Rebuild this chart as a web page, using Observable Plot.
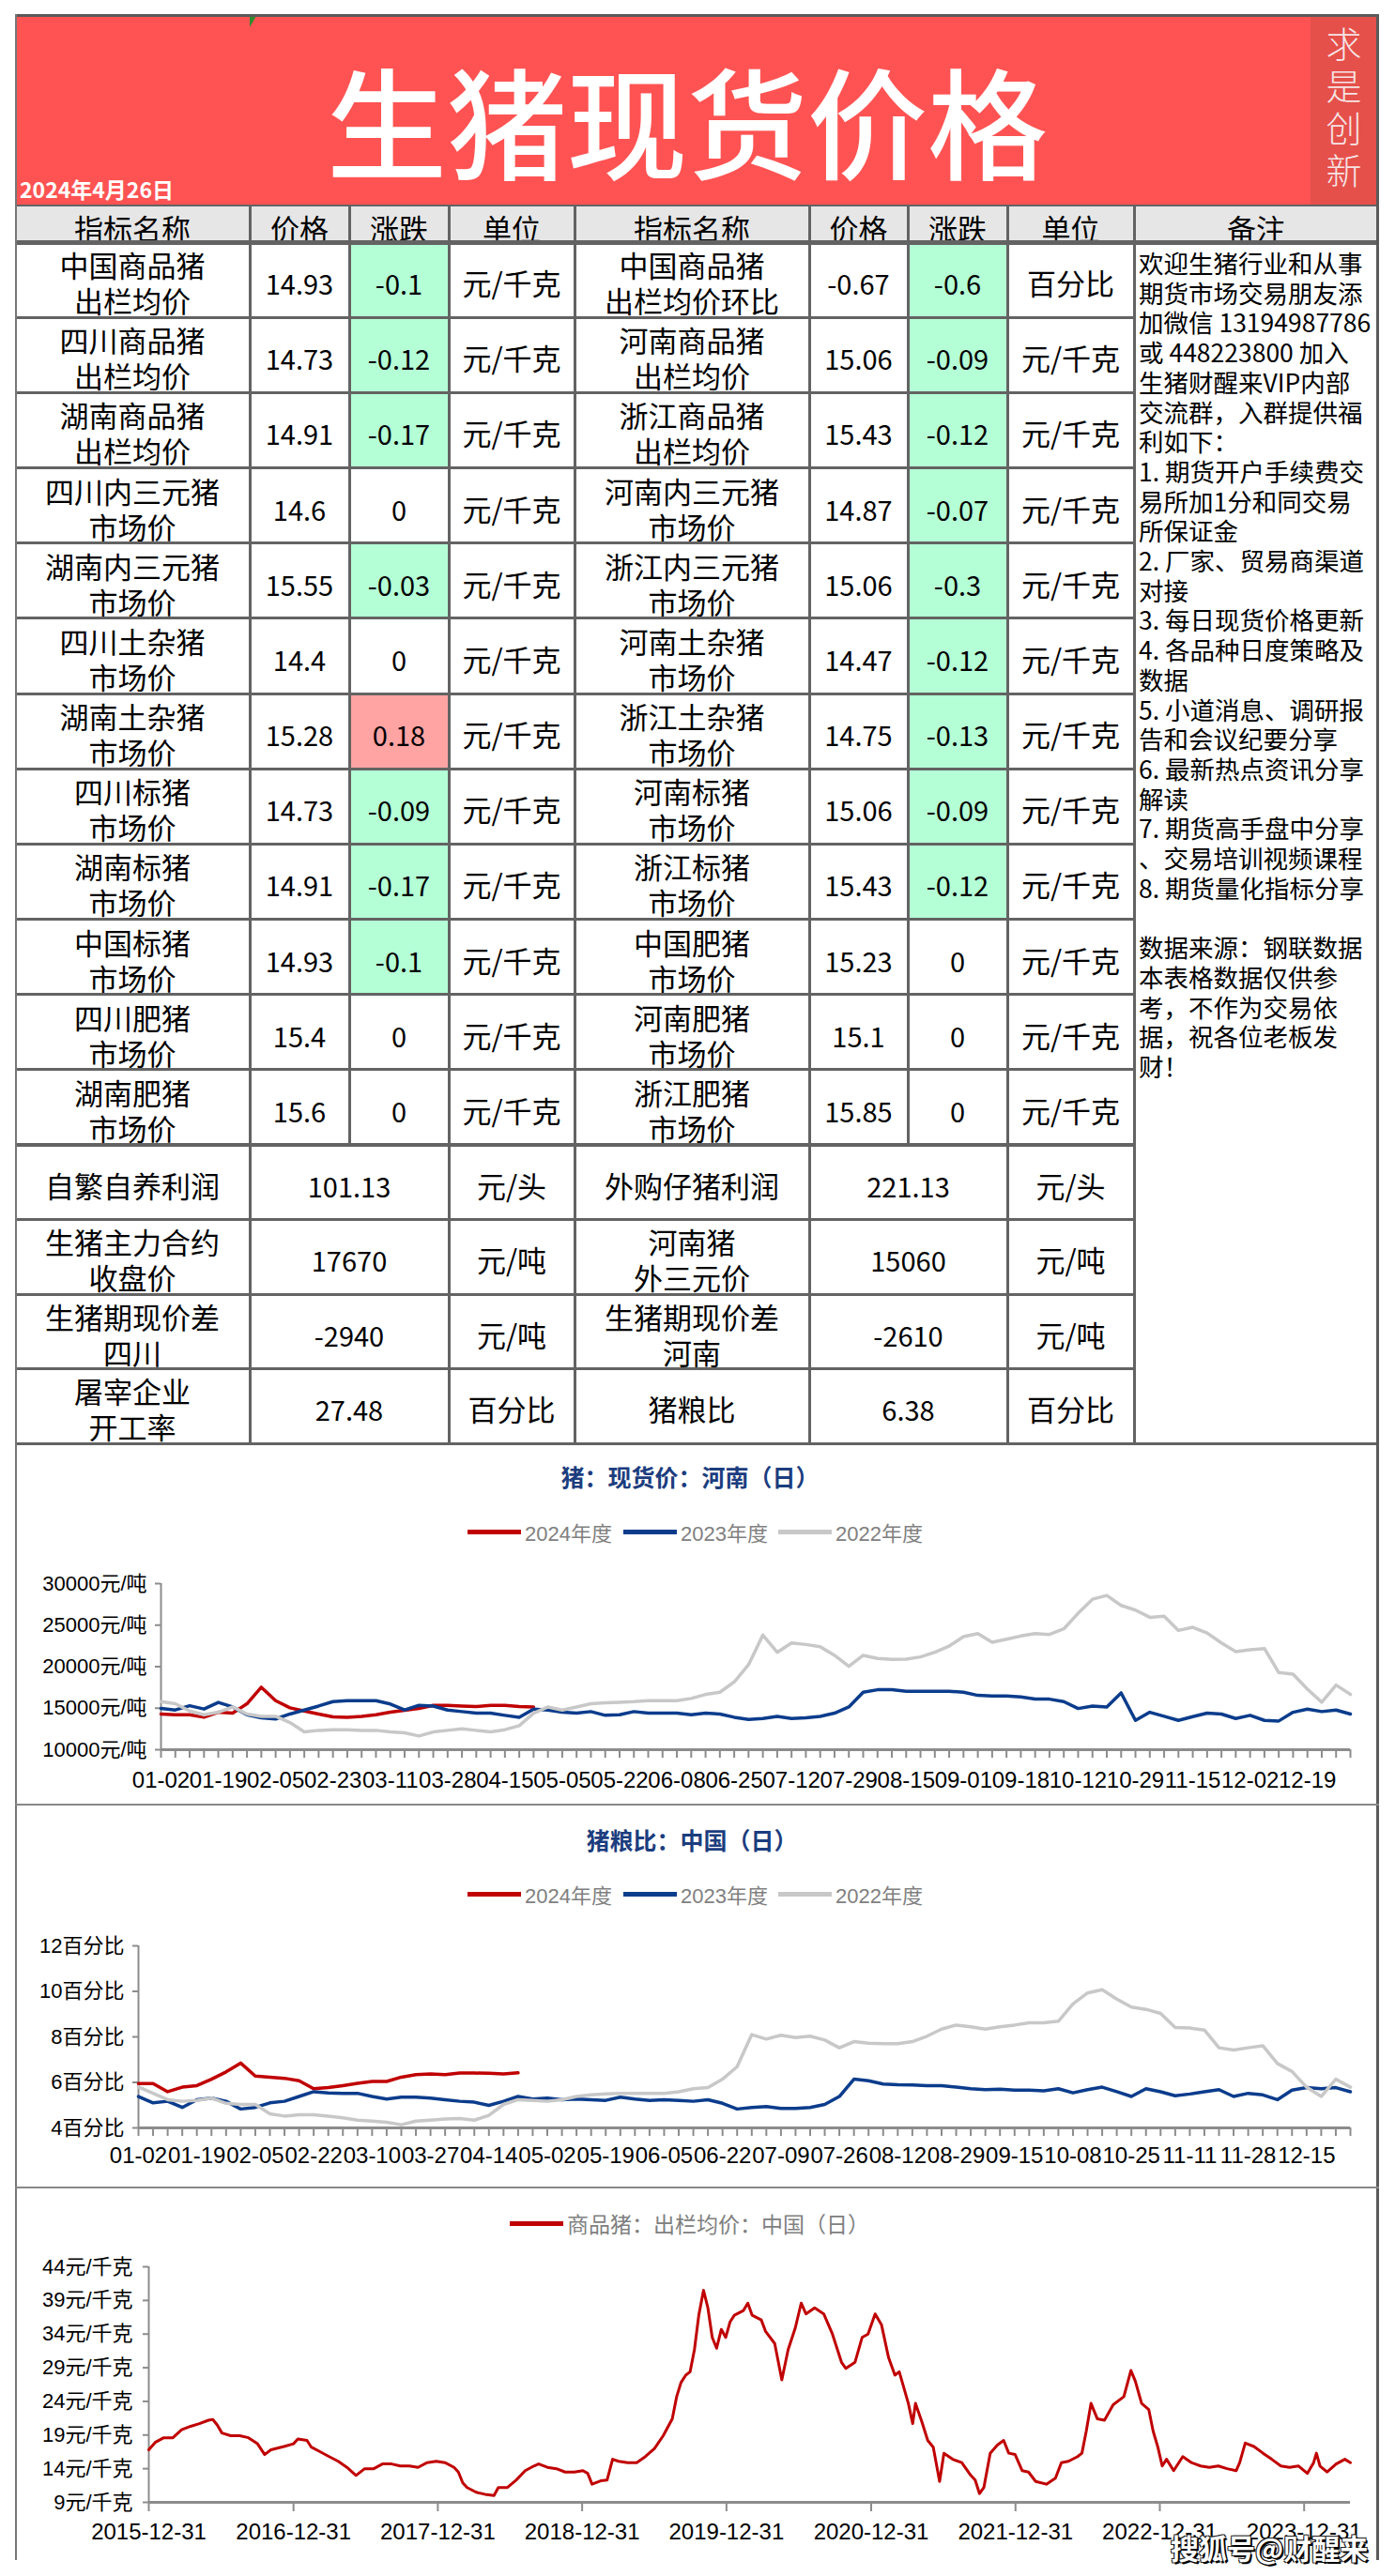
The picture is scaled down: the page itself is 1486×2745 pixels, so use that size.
<!DOCTYPE html>
<html lang="zh-CN">
<head>
<meta charset="utf-8">
<script src="https://cdn.jsdelivr.net/npm/d3@7"></script>
<script src="https://cdn.jsdelivr.net/npm/@observablehq/plot@0.6"></script>
<style>
html,body{margin:0;padding:0;background:#fff;}
#page{position:relative;width:1486px;height:2745px;overflow:hidden;background:#fff;font-family:"Noto Sans CJK SC","Noto Sans",sans-serif;color:#000;}
.a{position:absolute;}
.cell{position:absolute;box-sizing:border-box;display:flex;align-items:center;justify-content:center;text-align:center;white-space:pre-line;line-height:38px;font-size:31px;padding-top:6px;}
.ln{position:absolute;background:#636363;}
.ctitle{position:absolute;transform:translate(-50%,-50%);font-weight:700;font-size:25px;color:#1C3D7E;white-space:nowrap;}
.leg{position:absolute;display:flex;align-items:center;height:30px;font-size:22px;color:#808080;white-space:nowrap;font-family:"Liberation Sans","Noto Sans CJK SC",sans-serif;}
.leg i{display:inline-block;width:57px;height:5px;margin-right:4px;}
</style>
</head>
<body>
<div id="page"></div>
<script>
// ---------------- DATA ----------------
const reportDate = "2024年4月26日";
const sealText = "求是创新";
const headers = ["指标名称","价格","涨跌","单位","指标名称","价格","涨跌","单位","备注"];

const leftNames = ["中国商品猪\n出栏均价","四川商品猪\n出栏均价","湖南商品猪\n出栏均价","四川内三元猪\n市场价","湖南内三元猪\n市场价","四川土杂猪\n市场价","湖南土杂猪\n市场价","四川标猪\n市场价","湖南标猪\n市场价","中国标猪\n市场价","四川肥猪\n市场价","湖南肥猪\n市场价"];
const leftPrices = [14.93,14.73,14.91,14.6,15.55,14.4,15.28,14.73,14.91,14.93,15.4,15.6];
const leftChanges = [-0.1,-0.12,-0.17,0,-0.03,0,0.18,-0.09,-0.17,-0.1,0,0];
const leftUnits = ["元/千克","元/千克","元/千克","元/千克","元/千克","元/千克","元/千克","元/千克","元/千克","元/千克","元/千克","元/千克"];

const rightNames = ["中国商品猪\n出栏均价环比","河南商品猪\n出栏均价","浙江商品猪\n出栏均价","河南内三元猪\n市场价","浙江内三元猪\n市场价","河南土杂猪\n市场价","浙江土杂猪\n市场价","河南标猪\n市场价","浙江标猪\n市场价","中国肥猪\n市场价","河南肥猪\n市场价","浙江肥猪\n市场价"];
const rightPrices = [-0.67,15.06,15.43,14.87,15.06,14.47,14.75,15.06,15.43,15.23,15.1,15.85];
const rightChanges = [-0.6,-0.09,-0.12,-0.07,-0.3,-0.12,-0.13,-0.09,-0.12,0,0,0];
const rightUnits = ["百分比","元/千克","元/千克","元/千克","元/千克","元/千克","元/千克","元/千克","元/千克","元/千克","元/千克","元/千克"];

const bottomLeftNames = ["自繁自养利润","生猪主力合约\n收盘价","生猪期现价差\n四川","屠宰企业\n开工率"];
const bottomLeftValues = [101.13,17670,-2940,27.48];
const bottomLeftUnits = ["元/头","元/吨","元/吨","百分比"];
const bottomRightNames = ["外购仔猪利润","河南猪\n外三元价","生猪期现价差\n河南","猪粮比"];
const bottomRightValues = [221.13,15060,-2610,6.38];
const bottomRightUnits = ["元/头","元/吨","元/吨","百分比"];

const notes = ["欢迎生猪行业和从事","期货市场交易朋友添","加微信 13194987786","或 448223800 加入","生猪财醒来VIP内部","交流群，入群提供福","利如下：","1. 期货开户手续费交","易所加1分和同交易","所保证金","2. 厂家、贸易商渠道","对接","3. 每日现货价格更新","4. 各品种日度策略及","数据","5. 小道消息、调研报","告和会议纪要分享","6. 最新热点资讯分享","解读","7. 期货高手盘中分享","、交易培训视频课程","8. 期货量化指标分享","","数据来源：钢联数据","本表格数据仅供参","考，不作为交易依","据，祝各位老板发","财！"];

// chart 1: 猪：现货价：河南（日） 元/吨, sampled every ~3 trading days
const seriesNames = ["2024年度","2023年度","2022年度"];
const henan2024 = [14290,14210,14210,13910,14510,14400,15530,17520,15900,15040,14660,14290,13950,13910,14020,14210,14510,14740,14960,15340,15340,15260,15190,15340,15340,15190,15150];
const henan2023 = [14960,14780,15300,14900,15700,15150,14200,13850,13700,14300,14780,15260,15790,15900,15900,15900,15500,14780,15340,15260,14780,14590,14400,14400,14140,13900,14890,14780,14510,14400,14590,14140,14210,14590,14400,14400,14400,14210,14400,14290,13910,13650,13760,14020,13760,13840,14020,14400,15150,16920,17220,17220,17030,17030,17030,17030,16920,16540,16470,16470,16350,16090,16090,15790,14960,15260,15150,16840,13530,14510,14020,13530,13990,14400,14290,13760,14140,13530,13460,14510,14890,14590,14780,14290];
const henan2022 = [15790,15530,14660,14210,14510,15150,14290,14020,14020,13270,12140,12330,12410,12410,12330,12330,12140,12030,11650,12140,12330,12520,12330,12140,12410,12900,14400,15150,14780,15150,15530,15640,15720,15790,15900,15900,15900,16170,16660,16920,18160,20230,23800,21730,22860,22670,22410,21360,20040,21360,20980,20870,20900,21170,21730,22480,23610,23990,22930,23310,23690,23990,23880,24550,26430,28120,28570,27370,26810,25940,26060,24360,24740,24060,22860,21810,22030,22180,19290,19100,17290,15720,17780,16660];
const henanYTicks = [10000,15000,20000,25000,30000];
const henanXLabels = ["01-02","01-19","02-05","02-23","03-11","03-28","04-15","05-05","05-22","06-08","06-25","07-12","07-29","08-15","09-01","09-18","10-12","10-29","11-15","12-02","12-19"];

// chart 2: 猪粮比：中国（日） 百分比
const ratio2024 = [5.95,5.95,5.59,5.79,5.86,6.14,6.46,6.85,6.28,6.23,6.18,6.07,5.72,5.77,5.86,5.96,6.04,6.04,6.23,6.34,6.37,6.34,6.41,6.41,6.40,6.37,6.42];
const ratio2023 = [5.38,5.10,5.17,4.90,5.24,5.31,5.17,4.83,4.90,5.10,5.17,5.38,5.59,5.54,5.52,5.52,5.38,5.27,5.35,5.35,5.31,5.24,5.17,5.13,4.99,5.17,5.38,5.27,5.31,5.24,5.27,5.24,5.21,5.35,5.27,5.21,5.24,5.21,5.17,5.24,5.08,4.83,4.90,4.94,4.86,4.86,4.90,5.03,5.38,6.14,6.07,5.93,5.90,5.89,5.86,5.86,5.79,5.72,5.68,5.70,5.66,5.66,5.63,5.72,5.54,5.68,5.79,5.59,5.38,5.72,5.59,5.41,5.49,5.59,5.68,5.38,5.52,5.45,5.24,5.66,5.77,5.72,5.77,5.59];
const ratio2022 = [5.80,5.52,5.24,5.17,5.21,5.31,5.08,5.03,5.03,4.62,4.52,4.58,4.58,4.52,4.44,4.34,4.30,4.25,4.14,4.30,4.34,4.39,4.41,4.34,4.55,5.03,5.24,5.21,5.17,5.24,5.38,5.45,5.49,5.52,5.52,5.52,5.52,5.59,5.72,5.77,6.14,6.69,8.10,7.90,8.07,7.97,8.03,7.86,7.52,7.79,7.72,7.70,7.70,7.79,8.03,8.34,8.52,8.44,8.34,8.44,8.52,8.62,8.62,8.69,9.45,9.93,10.07,9.66,9.31,9.21,9.03,8.41,8.39,8.30,7.52,7.42,7.52,7.61,6.83,6.48,5.79,5.38,6.14,5.79];
const ratioYTicks = [4,6,8,10,12];
const ratioXLabels = ["01-02","01-19","02-05","02-22","03-10","03-27","04-14","05-02","05-19","06-05","06-22","07-09","07-26","08-12","08-29","09-15","10-08","10-25","11-11","11-28","12-15"];

// chart 3: 商品猪：出栏均价：中国（日） 元/千克
const hogDates = ["2015-12-31","2016-01-16","2016-02-07","2016-03-01","2016-03-23","2016-04-15","2016-05-07","2016-05-30","2016-06-10","2016-06-21","2016-07-03","2016-07-25","2016-08-17","2016-09-08","2016-10-01","2016-10-19","2016-11-04","2016-12-07","2016-12-31","2017-01-11","2017-02-03","2017-02-14","2017-03-09","2017-03-31","2017-04-23","2017-05-15","2017-06-07","2017-06-29","2017-07-22","2017-08-13","2017-09-05","2017-09-27","2017-10-20","2017-11-11","2017-12-04","2017-12-27","2018-01-18","2018-02-10","2018-02-21","2018-03-04","2018-03-15","2018-04-07","2018-04-29","2018-05-22","2018-06-02","2018-06-25","2018-07-17","2018-08-09","2018-08-31","2018-09-12","2018-10-04","2018-10-27","2018-11-18","2018-12-11","2019-01-02","2019-01-14","2019-01-25","2019-02-16","2019-03-04","2019-03-18","2019-04-02","2019-04-25","2019-05-18","2019-06-09","2019-07-02","2019-07-24","2019-08-16","2019-08-27","2019-09-07","2019-09-19","2019-09-30","2019-10-11","2019-10-22","2019-11-03","2019-11-14","2019-11-25","2019-12-06","2019-12-18","2019-12-29","2020-01-09","2020-01-20","2020-02-12","2020-02-23","2020-03-05","2020-03-28","2020-04-08","2020-05-01","2020-05-19","2020-06-04","2020-06-22","2020-07-07","2020-07-19","2020-08-10","2020-09-02","2020-09-24","2020-10-17","2020-10-28","2020-11-20","2020-12-08","2020-12-23","2021-01-10","2021-01-26","2021-02-13","2021-03-01","2021-03-12","2021-04-04","2021-04-15","2021-04-22","2021-05-08","2021-05-23","2021-06-06","2021-06-22","2021-07-03","2021-07-25","2021-08-17","2021-09-09","2021-09-20","2021-10-01","2021-10-12","2021-10-28","2021-11-15","2021-12-01","2021-12-14","2021-12-30","2022-01-17","2022-02-02","2022-02-20","2022-03-19","2022-04-11","2022-04-26","2022-05-14","2022-06-06","2022-06-17","2022-06-28","2022-07-10","2022-07-26","2022-08-13","2022-09-04","2022-10-01","2022-10-19","2022-10-30","2022-11-15","2022-12-03","2022-12-14","2022-12-26","2023-01-06","2023-01-17","2023-02-04","2023-02-27","2023-03-21","2023-04-13","2023-05-05","2023-05-28","2023-06-19","2023-07-12","2023-07-21","2023-08-04","2023-08-26","2023-09-18","2023-10-10","2023-11-02","2023-11-24","2023-12-17","2024-01-08","2024-01-24","2024-01-31","2024-02-09","2024-02-27","2024-03-21","2024-04-12","2024-04-26"];
const hogPrices = [16.8,17.9,18.6,18.6,19.8,20.3,20.7,21.2,21.3,20.5,19.3,18.9,18.9,18.6,17.7,16.1,16.8,17.3,17.7,18.4,18.2,17.2,16.5,15.8,15.1,14.2,13.0,14.0,14.0,14.7,14.7,14.4,14.4,14.2,14.9,15.1,14.9,14.2,13.5,11.9,11.2,10.5,10.2,10.0,11.2,11.2,12.3,13.7,14.4,14.7,14.2,14.0,13.5,13.5,13.7,13.3,11.7,12.2,12.3,15.4,15.1,14.9,14.9,15.8,17.0,18.9,21.4,24.7,26.8,27.9,28.4,31.7,36.8,40.5,37.9,33.5,31.9,34.7,33.5,35.8,36.8,37.5,38.6,36.8,36.1,34.4,32.6,27.2,31.7,34.9,38.6,37.0,37.9,37.0,34.0,29.8,28.9,29.8,33.5,34.0,37.0,35.4,30.5,27.9,28.4,23.7,20.7,23.7,21.0,18.2,17.2,12.1,16.3,15.4,14.9,13.0,12.3,10.3,11.2,16.3,17.5,18.2,16.3,16.1,13.7,13.5,12.1,11.7,12.6,14.9,15.1,15.8,16.3,19.6,23.7,21.4,21.2,23.5,24.7,28.6,27.0,23.7,22.8,19.6,17.2,14.4,15.4,13.7,15.8,14.9,14.4,14.2,14.4,14.0,13.7,14.9,17.8,17.3,16.3,15.4,14.4,14.2,14.4,13.3,14.9,16.3,14.4,13.5,14.7,15.4,14.9];
const hogYTicks = [9,14,19,24,29,34,39,44];
const hogXTicks = ["2015-12-31","2016-12-31","2017-12-31","2018-12-31","2019-12-31","2020-12-31","2021-12-31","2022-12-31","2023-12-31"];

// ---------------- LAYOUT ----------------
const page = document.getElementById("page");
function el(cls, style, text) {
  const e = document.createElement("div");
  if (cls) e.className = cls;
  Object.assign(e.style, style);
  if (text != null) e.textContent = text;
  page.appendChild(e);
  return e;
}
const px = v => v + "px";

// banner
el("a", {left:"18px", top:"17px", width:"1449px", height:"202px", background:"#FF5353"});
el("a", {left:"0px", top:"57px", width:"1464px", textAlign:"center", fontSize:"128px", lineHeight:"140px", color:"#fff", fontWeight:"500", whiteSpace:"nowrap"}, "生猪现货价格");
el("a", {left:"21px", top:"189px", fontSize:"23px", lineHeight:"24px", fontWeight:"700", color:"#fff", whiteSpace:"nowrap"}, reportDate);
el("a", {left:"266px", top:"17px", width:"0", height:"0", borderLeft:"7px solid #2E8B2E", borderBottom:"12px solid transparent"});
// seal
el("a", {left:"1396px", top:"17px", width:"71px", height:"202px", background:"#E5504B"});
el("a", {left:"1396px", top:"22px", width:"71px", height:"192px", writingMode:"vertical-rl", textAlign:"center", fontSize:"38px", lineHeight:"71px", letterSpacing:"7px", color:"#F6E4E4", fontWeight:"300"}, sealText);

// table
const cols = [16,266,372,478,612,862,967,1073,1208,1468];
const headTop = 219, headBot = 258, dataBot = 1220, tableBot = 1538;
const rowH = (dataBot - headBot) / 12;
const botH = (tableBot - dataBot) / 4;
const GREEN = "#B4FFD6", RED = "#FFA3A3";

function cell(x0, x1, y0, y1, text, style = {}) {
  return el("cell", Object.assign({left:px(x0), top:px(y0), width:px(x1 - x0), height:px(y1 - y0)}, style), text);
}
// header
el("a", {left:"16px", top:px(headTop), width:px(1468-16), height:px(headBot-headTop), background:"#E6E6E6"});
headers.forEach((h, k) => cell(cols[k], cols[k+1], headTop + 2, headBot, h, {paddingTop:"6px", lineHeight:"32px"}));

const chgColor = v => v < 0 ? GREEN : (v > 0 ? RED : "transparent");
for (let r = 0; r < 12; r++) {
  const y0 = headBot + r*rowH, y1 = y0 + rowH;
  cell(cols[0], cols[1], y0, y1, leftNames[r]);
  cell(cols[1], cols[2], y0, y1, String(leftPrices[r]), {fontSize:"29px"});
  cell(cols[2], cols[3], y0, y1, String(leftChanges[r]), {fontSize:"29px", background:chgColor(leftChanges[r])});
  cell(cols[3], cols[4], y0, y1, leftUnits[r]);
  cell(cols[4], cols[5], y0, y1, rightNames[r]);
  cell(cols[5], cols[6], y0, y1, String(rightPrices[r]), {fontSize:"29px"});
  cell(cols[6], cols[7], y0, y1, String(rightChanges[r]), {fontSize:"29px", background:chgColor(rightChanges[r])});
  cell(cols[7], cols[8], y0, y1, rightUnits[r]);
}
for (let r = 0; r < 4; r++) {
  const y0 = dataBot + r*botH, y1 = y0 + botH;
  cell(cols[0], cols[1], y0, y1, bottomLeftNames[r]);
  cell(cols[1], cols[3], y0, y1, String(bottomLeftValues[r]), {fontSize:"29px"});
  cell(cols[3], cols[4], y0, y1, bottomLeftUnits[r]);
  cell(cols[4], cols[5], y0, y1, bottomRightNames[r]);
  cell(cols[5], cols[7], y0, y1, String(bottomRightValues[r]), {fontSize:"29px"});
  cell(cols[7], cols[8], y0, y1, bottomRightUnits[r]);
}
// notes
el("a", {left:"1213px", top:"264px", width:"256px", fontSize:"26.5px", lineHeight:"31.7px", whiteSpace:"pre", color:"#000"}, notes.join("\n"));

// ---------------- CHARTS ----------------
const AXIS = "#8C8C8C";
const FONT = '"Liberation Sans","Noto Sans CJK SC",sans-serif';
const COLORS = ["#C00000", "#0B3C8C", "#C8C8C8"];

function seasonal({series, yTicks, yFmt, xLabels, top, height, marginLeft, marginTop, marginBottom, labelPad}) {
  const n = series[1].length;
  const rows = s => s.map((v, i) => ({i, v}));
  const labelIdx = xLabels.map((_, k) => k*4);
  const svg = Plot.plot({
    width: 1486, height, marginLeft, marginRight: 48, marginTop, marginBottom,
    style: {background:"transparent", fontFamily: FONT, overflow:"visible", color:"#000"},
    x: {domain: [0, n - 1], label: null},
    y: {domain: [yTicks[0], yTicks[yTicks.length - 1]], label: null},
    marks: [
      Plot.ruleX([0], {stroke: AXIS, strokeWidth: 2}),
      Plot.axisY(yTicks, {tickSize: 6, tickPadding: 9, tickFormat: yFmt, stroke: AXIS, strokeWidth: 2, fill: "#000", fontSize: 22, label: null}),
      Plot.axisX(d3.range(n), {tickSize: 9, tickFormat: () => "", stroke: AXIS, strokeWidth: 2, label: null}),
      Plot.axisX(labelIdx, {tickSize: 0, tickPadding: labelPad, tickFormat: d => xLabels[d/4], fill: "#000", fontSize: 24, label: null}),
      Plot.ruleY([yTicks[0]], {stroke: AXIS, strokeWidth: 3}),
      Plot.line(rows(series[0]), {x: "i", y: "v", stroke: COLORS[0], strokeWidth: 3.5}),
      Plot.line(rows(series[1]), {x: "i", y: "v", stroke: COLORS[1], strokeWidth: 3.5}),
      Plot.line(rows(series[2]), {x: "i", y: "v", stroke: COLORS[2], strokeWidth: 3.5})
    ]
  });
  Object.assign(svg.style, {position:"absolute", left:"0px", top:px(top)});
  page.appendChild(svg);
}

seasonal({series:[henan2024, henan2023, henan2022], yTicks: henanYTicks, yFmt: d => d + "元/吨", xLabels: henanXLabels,
  top: 1538, height: 384, marginLeft: 171, marginTop: 149, marginBottom: 58, labelPad: 23});
seasonal({series:[ratio2024, ratio2023, ratio2022], yTicks: ratioYTicks, yFmt: d => d + "百分比", xLabels: ratioXLabels,
  top: 1922, height: 408, marginLeft: 147, marginTop: 151, marginBottom: 63, labelPad: 20});

// chart 3
{
  const parse = d3.utcParse("%Y-%m-%d");
  const rows = hogDates.map((d, i) => ({date: parse(d), v: hogPrices[i]}));
  const xt = hogXTicks.map(parse);
  const svg = Plot.plot({
    width: 1486, height: 398, marginLeft: 158, marginRight: 48, marginTop: 85, marginBottom: 62,
    style: {background:"transparent", fontFamily: FONT, overflow:"visible", color:"#000"},
    x: {type: "utc", domain: [rows[0].date, rows[rows.length-1].date], label: null},
    y: {domain: [hogYTicks[0], hogYTicks[hogYTicks.length-1]], label: null},
    marks: [
      Plot.ruleX([rows[0].date], {stroke: AXIS, strokeWidth: 2}),
      Plot.axisY(hogYTicks, {tickSize: 6, tickPadding: 11, tickFormat: d => d + "元/千克", stroke: AXIS, strokeWidth: 2, fill: "#000", fontSize: 22, label: null}),
      Plot.axisX(xt, {tickSize: 10, tickPadding: 12, tickFormat: d3.utcFormat("%Y-%m-%d"), stroke: AXIS, strokeWidth: 2, fill: "#000", fontSize: 24, label: null}),
      Plot.ruleY([hogYTicks[0]], {stroke: AXIS, strokeWidth: 3}),
      Plot.line(rows, {x: "date", y: "v", stroke: COLORS[0], strokeWidth: 3})
    ]
  });
  Object.assign(svg.style, {position:"absolute", left:"0px", top:"2330px"});
  page.appendChild(svg);
}

// chart titles & legends
el("ctitle", {left:"735px", top:"1573px"}, "猪：现货价：河南（日）");
el("ctitle", {left:"737px", top:"1960px"}, "猪粮比：中国（日）");
function legend(y, items) {
  items.forEach(it => {
    const d = el("leg", {left:px(it.x), top:px(y - 15)});
    const i = document.createElement("i"); i.style.background = it.c; d.appendChild(i);
    const s = document.createElement("span"); s.textContent = it.t; d.appendChild(s);
    if (it.fs) d.style.fontSize = it.fs;
  });
}
const legX = [498, 664, 829];
legend(1632, seriesNames.map((t, k) => ({x: legX[k], c: COLORS[k], t})));
legend(2018, seriesNames.map((t, k) => ({x: legX[k], c: COLORS[k], t})));
legend(2369, [{x: 543, c: COLORS[0], t: "商品猪：出栏均价：中国（日）", fs: "23px"}]);

// grid lines
function hl(x0, x1, y, w = 3, c) { el("ln", {left:px(x0), top:px(y - w/2), width:px(x1 - x0), height:px(w), background: c || "#636363"}); }
function vl(x, y0, y1, w = 3, c) { el("ln", {left:px(x - w/2), top:px(y0), width:px(w), height:px(y1 - y0), background: c || "#636363"}); }
hl(16, 1469, headTop, 2);
hl(16, 1469, headBot, 5);
for (let r = 1; r < 12; r++) hl(16, cols[8], headBot + r*rowH, 3);
hl(16, cols[8], dataBot, 3.5);
for (let r = 1; r < 4; r++) hl(16, cols[8], dataBot + r*botH, 3);
hl(16, 1469, tableBot, 3);
[1,3,4,5,7,8].forEach(k => vl(cols[k], headTop, tableBot, 3));
[2,6].forEach(k => vl(cols[k], headTop, dataBot, 3));
// outer frame & panel separators
hl(16, 1469, 16, 3, "#5a5a5a");
vl(17, 15, 2728, 2.5, "#777");
vl(1467.5, 15, 2728, 3, "#5a5a5a");
hl(16, 1469, 1923, 2, "#888");
hl(16, 1469, 2331, 2, "#888");

// watermark
el("a", {left:"1247px", top:"2696px", fontSize:"30px", lineHeight:"36px", fontWeight:"700", color:"#fff", whiteSpace:"nowrap",
  textShadow:"2px 2px 0 #000, -1px -1px 0 #222, 1px -1px 0 #222, -1px 1px 0 #222"}, "搜狐号@财醒来");
</script>
</body>
</html>
